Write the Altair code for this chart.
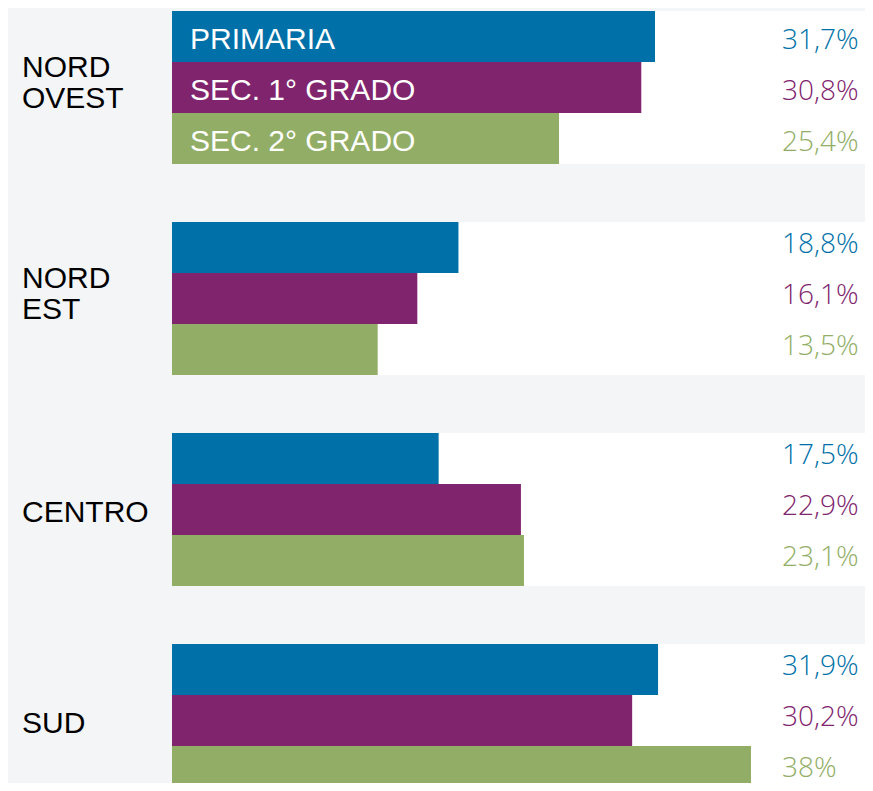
import altair as alt
import pandas as pd

regions = ["NORD OVEST", "NORD EST", "CENTRO", "SUD"]
region_labels = ["NORD\nOVEST", "NORD\nEST", "CENTRO", "SUD"]
levels = ["PRIMARIA", "SEC. 1° GRADO", "SEC. 2° GRADO"]
primaria = [31.7, 18.8, 17.5, 31.9]
sec1 = [30.8, 16.1, 22.9, 30.2]
sec2 = [25.4, 13.5, 23.1, 38.0]
colors = ["#0071A8", "#80246E", "#92AE66"]


def fmt(v):
    s = f"{int(v)}" if float(v).is_integer() else f"{v:.1f}".replace(".", ",")
    return s + "%"


rows = []
for i, r in enumerate(regions):
    for lvl, vals in zip(levels, [primaria, sec1, sec2]):
        rows.append(dict(region=r, level=lvl, value=vals[i], label=fmt(vals[i])))
df = pd.DataFrame(rows)
df_reg = pd.DataFrame({"region": regions, "rlabel": region_labels,
                       "lines": [l.count("\n") + 1 for l in region_labels]})
df_leg = pd.DataFrame({"region": [regions[0]] * 3, "level": levels})

LETTER_FONT = "Liberation Sans"
NUM_FONT = "Open Sans"
y_enc = alt.Y("region:N", scale=alt.Scale(domain=regions, range=[3, 789],
                                          paddingInner=58 / 211, paddingOuter=0), axis=None)
yoff = alt.YOffset("level:N", scale=alt.Scale(domain=levels, paddingInner=0, paddingOuter=0))
x_enc = alt.X("value:Q", scale=alt.Scale(domain=[0, 38], range=[164, 743], nice=False), axis=None)
col_enc = alt.Color("level:N", scale=alt.Scale(domain=levels, range=colors), legend=None)

panels = alt.Chart(df_reg).mark_bar(color="white").encode(
    y=y_enc, x=alt.value(164), x2=alt.value(857))

bars = alt.Chart(df).mark_bar().encode(y=y_enc, yOffset=yoff, x=x_enc, color=col_enc)

num_props = dict(align="left", baseline="alphabetic", font=NUM_FONT, fontSize=28, fontWeight=300)
vals_top = alt.Chart(df).transform_filter(alt.datum.region == regions[0]).mark_text(
    dy=12.8, **num_props).encode(
    y=y_enc, yOffset=yoff, x=alt.value(774), text="label:N", color=col_enc)
vals_rest = alt.Chart(df).transform_filter(alt.datum.region != regions[0]).mark_text(
    dy=5.6, **num_props).encode(
    y=y_enc, yOffset=yoff, x=alt.value(774), text="label:N", color=col_enc)

leg = alt.Chart(df_leg).mark_text(align="left", baseline="alphabetic", font=LETTER_FONT,
                                  fontSize=30, color="white", dy=12.3).encode(
    y=y_enc, yOffset=yoff, x=alt.value(182), text="level:N")

reg2 = alt.Chart(df_reg).transform_filter("datum.lines > 1").mark_text(
    align="left", baseline="alphabetic", font=LETTER_FONT, fontSize=30, color="black",
    lineBreak="\n", lineHeight=31.5, dy=-11).encode(
    y=y_enc, x=alt.value(14), text="rlabel:N")

reg1 = alt.Chart(df_reg).transform_filter("datum.lines == 1").mark_text(
    align="left", baseline="alphabetic", font=LETTER_FONT, fontSize=30, color="black",
    dy=12).encode(
    y=y_enc, x=alt.value(14), text="rlabel:N")

chart = alt.layer(panels, bars, vals_top, vals_rest, leg, reg2, reg1).properties(
    width=857, height=775, padding=0, background="#F4F5F7",
    autosize=alt.AutoSizeParams(type="none"),
).configure_view(stroke=None)

chart.save("out.html", embed_options={"renderer": "svg", "actions": False})
